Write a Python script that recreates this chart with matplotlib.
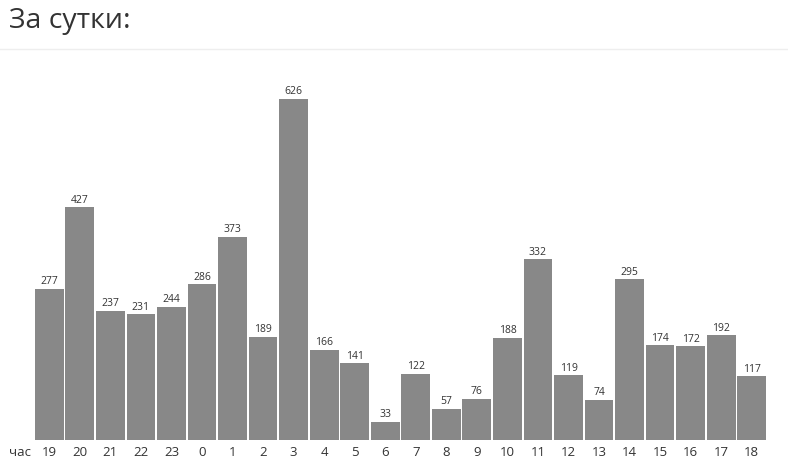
import matplotlib
matplotlib.use('Agg')
import matplotlib.pyplot as plt

plt.rcParams['font.family'] = ['Open Sans', 'DejaVu Sans']

hours = ['19', '20', '21', '22', '23', '0', '1', '2', '3', '4', '5', '6',
         '7', '8', '9', '10', '11', '12', '13', '14', '15', '16', '17', '18']
counts = [277, 427, 237, 231, 244, 286, 373, 189, 626, 166, 141, 33,
          122, 57, 76, 188, 332, 119, 74, 295, 174, 172, 192, 117]

W, H = 788, 471
fig = plt.figure(figsize=(W / 100, H / 100), dpi=100)

# axes placed in pixel coordinates of the reference
left, right, bottom, top = 34, 767, 440, 60
ax = fig.add_axes([left / W, 1 - bottom / H, (right - left) / W, (bottom - top) / H])

x = range(len(counts))
ax.bar(x, counts, width=0.94, color='#888888', linewidth=0)
for i, v in enumerate(counts):
    ax.text(i, v + 3, str(v), ha='center', va='bottom', fontsize=7.5, color='#333333')

px_per_unit = (440 - 99) / 626
ax.set_ylim(0, (bottom - top) / px_per_unit)
ax.set_xlim(-0.5, len(counts) - 0.5)
ax.set_xticks(list(x))
ax.set_xticklabels(hours, fontsize=9.5, color='#333333')
ax.tick_params(axis='x', length=0, pad=4)
ax.set_yticks([])
for s in ax.spines.values():
    s.set_visible(False)

fig.text(20 / W, 1 - 452 / H, 'час', ha='center', va='center', fontsize=9.5, color='#333333')
fig.text(9 / W, 1 - 21 / H, 'За сутки:', ha='left', va='center', fontsize=20.5, color='#333333')
fig.add_artist(plt.Line2D([0, 1], [1 - 48.5 / H, 1 - 48.5 / H], color='#eeeeee', linewidth=1))

plt.savefig('out.png', dpi=100)
